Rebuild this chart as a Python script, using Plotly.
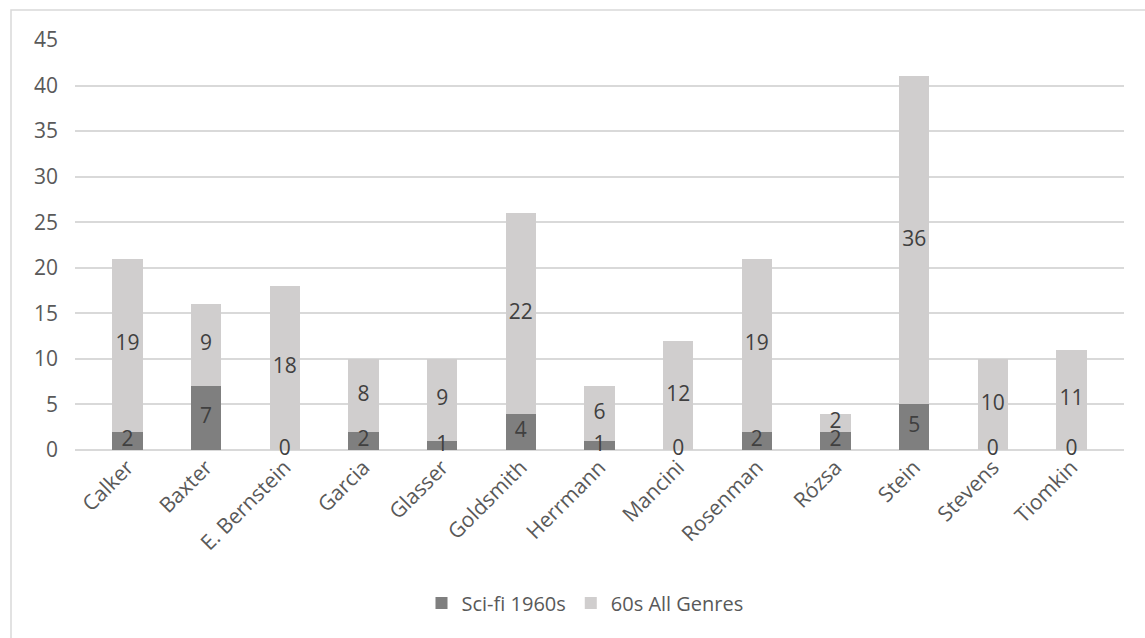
import plotly.graph_objects as go

composers = ["Calker", "Baxter", "E. Bernstein", "Garcia", "Glasser", "Goldsmith",
             "Herrmann", "Mancini", "Rosenman", "Rózsa", "Stein", "Stevens", "Tiomkin"]
scifi_1960s = [2, 7, 0, 2, 1, 4, 1, 0, 2, 2, 5, 0, 0]
all_genres_60s = [19, 9, 18, 8, 9, 22, 6, 12, 19, 2, 36, 10, 11]
y_ticks = [0, 5, 10, 15, 20, 25, 30, 35, 40, 45]

DARK = "#7f7f7f"
LIGHT = "#d0cece"
FONT = "Open Sans"
LABEL_COLOR = "#404040"
TICK_COLOR = "#595959"

fig = go.Figure()
fig.add_trace(go.Bar(x=composers, y=scifi_1960s, name="Sci-fi 1960s",
                     marker=dict(color=DARK, line=dict(width=0))))
fig.add_trace(go.Bar(x=composers, y=all_genres_60s, name="60s All Genres",
                     marker=dict(color=LIGHT, line=dict(width=0))))

# data labels centred on each stacked segment
mid_dark = [v / 2 for v in scifi_1960s]
mid_light = [a + b / 2 for a, b in zip(scifi_1960s, all_genres_60s)]
for mids, vals in ((mid_dark, scifi_1960s), (mid_light, all_genres_60s)):
    fig.add_trace(go.Scatter(x=composers, y=mids, mode="text",
                             text=[str(v) for v in vals],
                             textposition="middle center",
                             textfont=dict(family=FONT, size=21, color=LABEL_COLOR),
                             showlegend=False, hoverinfo="skip", cliponaxis=False))

L, R, T, B = 75, 21, 40, 188
W, H = 1145, 638
pw, ph = W - L - R, H - T - B

fig.update_layout(
    width=W, height=H,
    barmode="stack", bargap=0.615,
    margin=dict(l=L, r=R, t=T, b=B),
    paper_bgcolor="white", plot_bgcolor="white",
    font=dict(family=FONT, size=21, color=TICK_COLOR),
    legend=dict(orientation="h", x=(585 - L) / pw, xanchor="center",
                y=(450 - 603) / ph, yanchor="middle",
                font=dict(family=FONT, size=20, color=TICK_COLOR),
                traceorder="normal", itemwidth=30),
    xaxis=dict(tickangle=-45, showgrid=False, showline=False, ticks="",
               tickfont=dict(family=FONT, size=21, color=TICK_COLOR)),
    yaxis=dict(range=[0, 45], tickvals=y_ticks, showgrid=True, gridcolor="#d9d9d9",
               gridwidth=1.5, zeroline=True, zerolinecolor="#d9d9d9", zerolinewidth=1.5,
               showline=False, ticks="", ticklabelstandoff=16,
               tickfont=dict(family=FONT, size=21, color=TICK_COLOR)),
    shapes=[dict(type="rect", xref="paper", yref="paper",
                 x0=(11 - L) / pw, x1=(W + 20 - L) / pw,
                 y0=-(H + 20 - T - ph) / ph, y1=1 + (T - 10) / ph,
                 line=dict(color="#d9d9d9", width=1.5), fillcolor="rgba(0,0,0,0)",
                 layer="below")],
)

fig.write_html("out.html")
